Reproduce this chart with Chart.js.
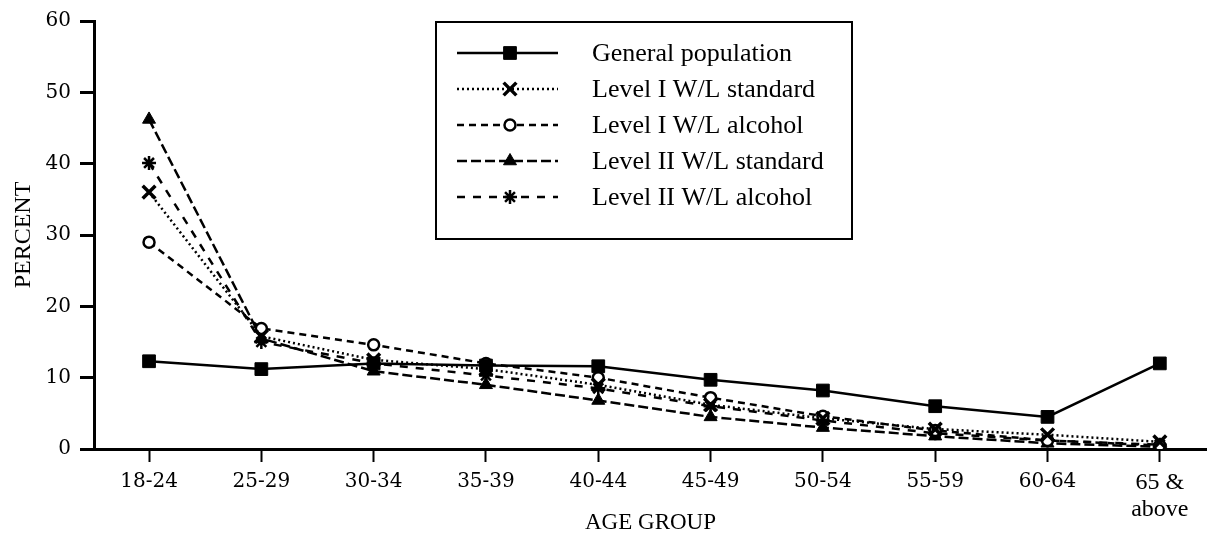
<!DOCTYPE html>
<html>
<head>
<meta charset="utf-8">
<script src="https://cdn.jsdelivr.net/npm/chart.js@4.4.1/dist/chart.umd.min.js"></script>
<style>
  html, body { margin: 0; padding: 0; background: #fff; overflow: hidden; }
  #wrap { width: 1207px; height: 539px; position: relative; }
</style>
</head>
<body>
<div id="wrap"><canvas id="chart"></canvas></div>
<script>
// age groups on the x axis
const ageGroups = ['18-24', '25-29', '30-34', '35-39', '40-44', '45-49', '50-54', '55-59', '60-64', ['65 &', 'above']];

// percent values
const generalPop = [12.3, 11.2, 12.0, 11.7, 11.6, 9.7, 8.2, 6.0, 4.5, 12.0];
const level1Std = [36.0, 15.8, 12.5, 11.2, 9.0, 6.2, 4.3, 2.8, 2.0, 1.0];
const level1Alc = [29.0, 16.9, 14.6, 12.0, 10.0, 7.2, 4.6, 2.6, 1.2, 0.5];
const level2Std = [46.2, 15.5, 10.9, 9.0, 6.8, 4.5, 3.0, 1.8, 0.8, 0.3];
const level2Alc = [40.1, 15.0, 12.0, 10.3, 8.5, 6.0, 4.0, 2.2, 1.2, 0.6];

const yTicks = [0, 10, 20, 30, 40, 50, 60];

const serif = "'Liberation Serif', 'Times New Roman', serif";
const tickFont = "'DejaVu Serif', serif";

// x runs on group index; the plot is cut a little short on the right
const xMin = -0.49, xMax = 9.42;

const mk = (label, values, style, radius, fill, dash, bw) => ({
  label,
  data: values.map((v, i) => ({ x: i, y: v })),
  borderColor: '#000', backgroundColor: fill,
  borderWidth: 2.5, borderDash: dash,
  pointStyle: style, pointRadius: radius, pointHoverRadius: radius,
  pointBorderColor: '#000', pointBackgroundColor: fill, pointBorderWidth: bw,
  tension: 0, fill: false
});

const datasets = [
  mk('General population', generalPop, 'rect', 9, '#000', [], 1),
  mk('Level I W/L standard', level1Std, 'crossRot', 9, '#000', [2, 3], 3.5),
  mk('Level I W/L alcohol', level1Alc, 'circle', 5.5, '#fff', [7, 5], 2.5),
  mk('Level II W/L standard', level2Std, 'triangle', 7.5, '#000', [10, 4], 1),
  mk('Level II W/L alcohol', level2Alc, 'star', 7, '#000', [8, 8], 2.5)
];

// boxed legend with line samples, drawn in the upper middle of the plot
const boxLegend = {
  id: 'boxLegend',
  afterDraw(chart) {
    const ctx = chart.ctx;
    ctx.save();
    ctx.strokeStyle = '#000';
    ctx.lineWidth = 2;
    ctx.setLineDash([]);
    ctx.strokeRect(436, 22, 416, 217);
    chart.data.datasets.forEach((ds, i) => {
      const y = 53 + i * 36;
      ctx.save();
      ctx.strokeStyle = '#000';
      ctx.lineWidth = 2.5;
      ctx.setLineDash(ds.borderDash);
      ctx.beginPath();
      ctx.moveTo(457, y);
      ctx.lineTo(558, y);
      ctx.stroke();
      ctx.restore();
      ctx.save();
      ctx.fillStyle = ds.pointBackgroundColor;
      ctx.strokeStyle = '#000';
      ctx.lineWidth = ds.pointBorderWidth;
      Chart.helpers.drawPoint(ctx, {
        pointStyle: ds.pointStyle, radius: ds.pointRadius,
        borderWidth: ds.pointBorderWidth, rotation: 0
      }, 510, y);
      ctx.restore();
      ctx.fillStyle = '#000';
      ctx.font = '26px ' + serif;
      ctx.textBaseline = 'middle';
      ctx.textAlign = 'left';
      ctx.fillText(ds.label, 592, y + 1);
    });
    ctx.restore();
  }
};

new Chart(document.getElementById('chart'), {
  type: 'line',
  data: { datasets },
  plugins: [boxLegend],
  options: {
    responsive: true,
    maintainAspectRatio: false,
    animation: false,
    layout: { autoPadding: false, padding: { top: 19, right: 0, left: 0, bottom: 0 } },
    plugins: { legend: { display: false }, tooltip: { enabled: false } },
    scales: {
      x: {
        type: 'linear',
        min: xMin, max: xMax,
        afterFit: s => { s.height = 90; s.paddingLeft = 0; s.paddingRight = 0; },
        afterBuildTicks: s => { s.ticks = ageGroups.map((g, i) => ({ value: i })); },
        border: { display: true, color: '#000', width: 3 },
        grid: { drawOnChartArea: false, drawTicks: true, tickLength: 13, tickColor: '#000', tickWidth: 2 },
        ticks: {
          color: '#000', padding: 8, maxRotation: 0, autoSkip: false,
          callback: v => ageGroups[v],
          font: c => c.index === 9 ? { family: serif, size: 24, lineHeight: 1.1 } : { family: tickFont, size: 20 }
        },
        title: { display: true, text: 'AGE GROUP', color: '#000', font: { family: serif, size: 23 }, padding: { top: 0, bottom: 2 } }
      },
      y: {
        min: 0, max: 60,
        afterFit: s => { s.width = 94; },
        afterBuildTicks: s => { s.ticks = yTicks.map(v => ({ value: v })); },
        border: { display: true, color: '#000', width: 3 },
        grid: { drawOnChartArea: false, drawTicks: true, tickLength: 14, tickColor: '#000', tickWidth: 3 },
        ticks: { color: '#000', font: { family: tickFont, size: 20 }, padding: 9 },
        title: { display: true, text: 'PERCENT', color: '#000', font: { family: serif, size: 24 }, padding: { top: 9, bottom: 0 } }
      }
    }
  }
});
</script>
</body>
</html>
